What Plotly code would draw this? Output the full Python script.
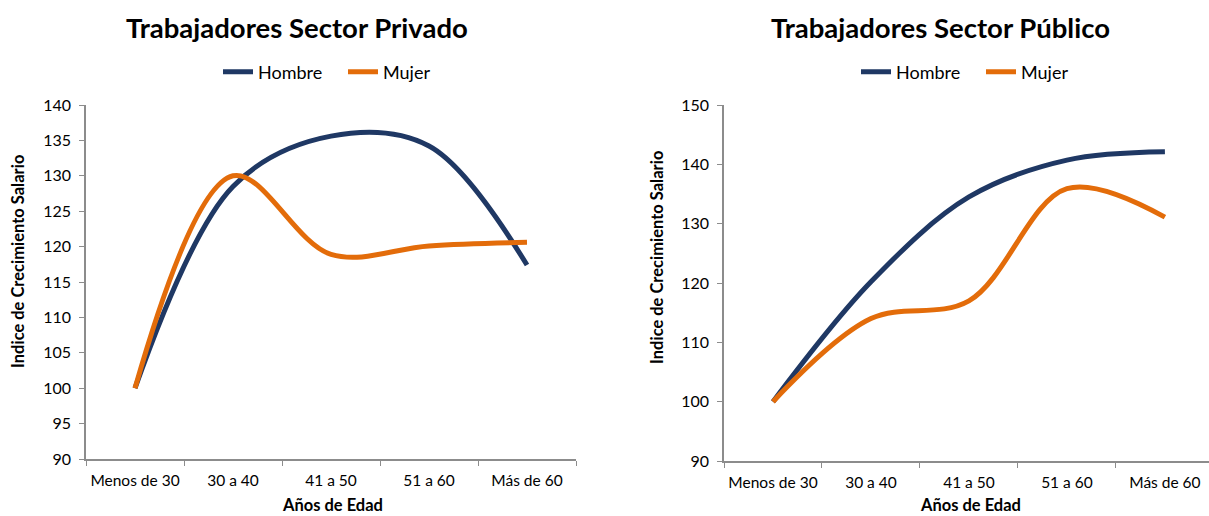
import plotly.graph_objects as go

# Age groups shared by both panels
categorias = ["Menos de 30", "30 a 40", "41 a 50", "51 a 60", "Más de 60"]

# Wage growth index, private sector
privado_hombre = [100, 128.5, 135.6, 134.2, 117.4]
privado_mujer = [100, 130.0, 118.9, 120.1, 120.6]

# Wage growth index, public sector
publico_hombre = [100, 120.2, 134.5, 140.7, 142.1]
publico_mujer = [100, 114.0, 117.0, 135.9, 131.1]

COLOR_H = "#1F3864"
COLOR_M = "#E36C0A"
FONT = "Lato, 'Open Sans', sans-serif"
AXIS_GREY = "#8C8C8C"
W, H = 1209, 516

fig = go.Figure()


def add_pair(hombre, mujer, xa, ya, legend):
    fig.add_trace(go.Scatter(
        x=categorias, y=hombre, name="Hombre", mode="lines",
        line=dict(color=COLOR_H, width=5, shape="spline", smoothing=1.0),
        xaxis=xa, yaxis=ya, legend=legend))
    fig.add_trace(go.Scatter(
        x=categorias, y=mujer, name="Mujer", mode="lines",
        line=dict(color=COLOR_M, width=5, shape="spline", smoothing=1.0),
        xaxis=xa, yaxis=ya, legend=legend))


add_pair(privado_hombre, privado_mujer, "x", "y", "legend")
add_pair(publico_hombre, publico_mujer, "x2", "y2", "legend2")

xcommon = dict(
    type="category", showline=True, linecolor=AXIS_GREY,
    linewidth=1.5, ticks="outside", tickson="boundaries", ticklen=5,
    tickcolor=AXIS_GREY, showgrid=False, zeroline=False, automargin=False,
    tickangle=0, ticklabelstandoff=7,
    tickfont=dict(family=FONT, size=15.5, color="#000000"),
)
ycommon = dict(
    showline=True, linecolor=AXIS_GREY, linewidth=1.5, ticks="outside",
    ticklen=5, tickcolor=AXIS_GREY, showgrid=False, zeroline=False,
    automargin=False, ticklabelstandoff=5,
    tickfont=dict(family=FONT, size=16, color="#000000"),
)

titulo = dict(family=FONT, size=27.5, color="#000000")
eje = dict(family=FONT, size=16.5, color="#000000")


def px_x(p):
    return p / W


def px_y(p):
    return 1 - p / H


annotations = [
    dict(text="<b>Trabajadores Sector Privado</b>", x=px_x(297), y=px_y(28), font=titulo),
    dict(text="<b>Trabajadores Sector Público</b>", x=px_x(940), y=px_y(28), font=titulo),
    dict(text="<b>Años de Edad</b>", x=px_x(332), y=px_y(505), font=eje),
    dict(text="<b>Años de Edad</b>", x=px_x(970), y=px_y(505), font=eje),
    dict(text="<b>Indice de Crecimiento Salario</b>", x=px_x(18), y=px_y(262), textangle=-90, font=eje),
    dict(text="<b>Indice de Crecimiento Salario</b>", x=px_x(657), y=px_y(258), textangle=-90, font=eje),
]
for a in annotations:
    a.update(xref="paper", yref="paper", showarrow=False, xanchor="center", yanchor="middle")

leg = dict(orientation="h", yanchor="middle", xanchor="left", entrywidth=80,
           font=dict(family=FONT, size=18), itemwidth=30, bgcolor="rgba(0,0,0,0)")

fig.update_layout(
    width=W, height=H,
    margin=dict(l=0, r=0, t=0, b=0),
    paper_bgcolor="white", plot_bgcolor="white",
    font=dict(family=FONT, color="#000000"),
    showlegend=True,
    xaxis=dict(domain=[px_x(86), px_x(576)], anchor="y", range=[-0.5, 4.5], **xcommon),
    yaxis=dict(domain=[px_y(459), px_y(105)], anchor="x", range=[90, 140], dtick=5, **ycommon),
    xaxis2=dict(domain=[px_x(724), 1.0], anchor="y2", range=[-0.5, 4.45], **xcommon),
    yaxis2=dict(domain=[px_y(461), px_y(105)], anchor="x2", range=[90, 150], dtick=10, **ycommon),
    legend=dict(x=px_x(218), y=px_y(72), **leg),
    legend2=dict(x=px_x(856), y=px_y(72), **leg),
    annotations=annotations,
)

fig.write_html("out.html")
